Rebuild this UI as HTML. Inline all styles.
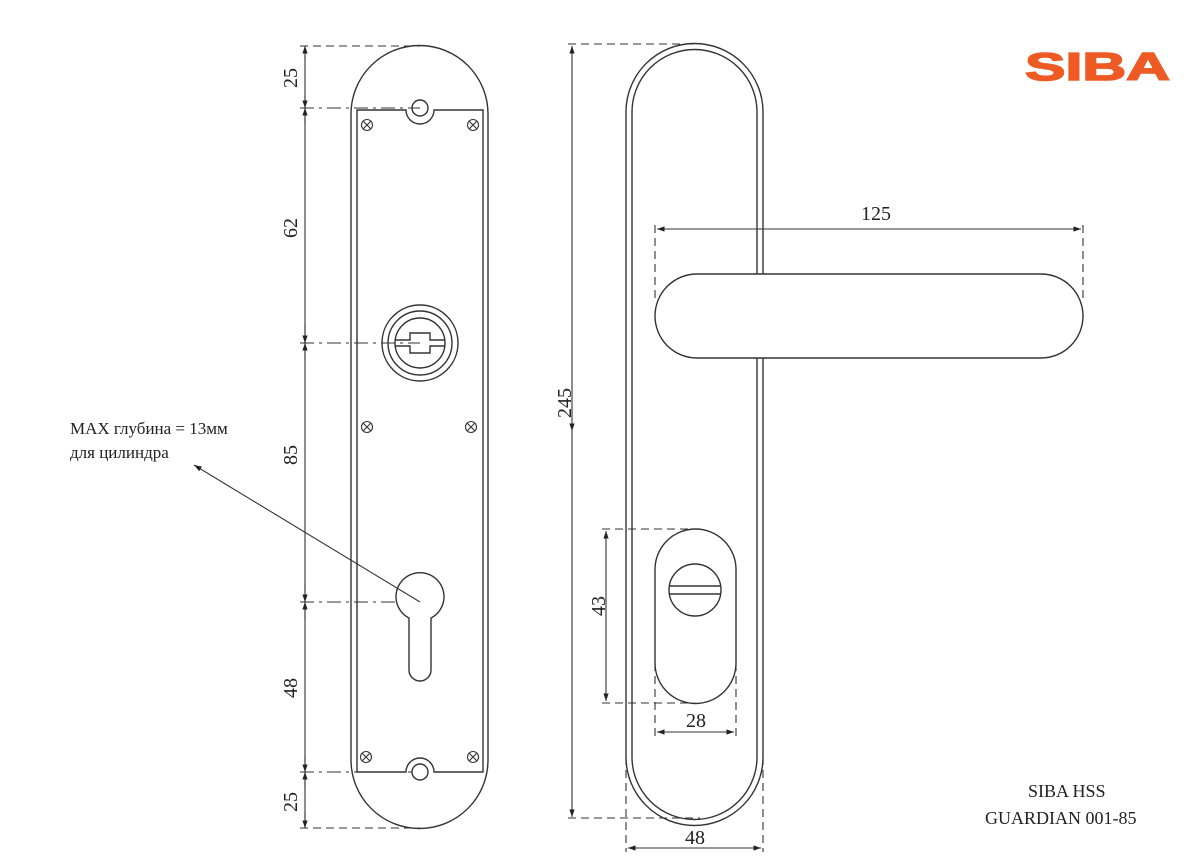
<!DOCTYPE html>
<html><head><meta charset="utf-8"><style>
html,body{margin:0;padding:0;background:#fff}
svg{display:block}
text{font-family:"Liberation Serif","DejaVu Serif",serif;fill:#222}
</style></head><body>
<svg width="1200" height="867" viewBox="0 0 1200 867" xmlns="http://www.w3.org/2000/svg">
<defs>
<marker id="a" viewBox="0 0 10 10" refX="10" refY="5" markerWidth="7" markerHeight="7" orient="auto-start-reverse"><path d="M0,1.5 L10,5 L0,8.5 z" fill="#222"/></marker>
</defs>
<g fill="none" stroke="#333" stroke-width="1.4">
<!-- LEFT PLATE -->
<path d="M351,114 A68.5,68.5 0 0 1 488,114 L488,760 A68.5,68.5 0 0 1 351,760 Z"/>
<path d="M357,110 L406,110 A14,14 0 0 0 434,110 L483,110 L483,772 L434,772 A14,14 0 0 0 406,772 L357,772 Z"/>
<circle cx="420" cy="108" r="8"/>
<circle cx="420" cy="772" r="8"/>
<g stroke-width="1.1">
<circle cx="367" cy="125" r="5.5"/><path d="M363,121 l8,8 M371,121 l-8,8"/>
<circle cx="473" cy="125" r="5.5"/><path d="M469,121 l8,8 M477,121 l-8,8"/>
<circle cx="367" cy="427" r="5.5"/><path d="M363,423 l8,8 M371,423 l-8,8"/>
<circle cx="471" cy="427" r="5.5"/><path d="M467,423 l8,8 M475,423 l-8,8"/>
<circle cx="366" cy="757" r="5.5"/><path d="M362,753 l8,8 M370,753 l-8,8"/>
<circle cx="473" cy="757" r="5.5"/><path d="M469,753 l8,8 M477,753 l-8,8"/>
</g>
<circle cx="420" cy="343" r="38"/>
<circle cx="420" cy="343" r="32"/>
<circle cx="420" cy="343" r="25"/>
<path d="M395,340 L410,340 L410,333 L430,333 L430,340 L445,340 M395,346 L410,346 L410,353 L430,353 L430,346 L445,346"/>
<path d="M409,618 A24,24 0 1 1 431,618 L431,670 A11,11 0 0 1 409,670 Z"/>
<!-- left dims -->
<line x1="305" y1="46" x2="305" y2="828" stroke-width="1.1"/>
<g stroke-dasharray="8,5" stroke-width="1.1">
<line x1="300" y1="46" x2="420" y2="46"/>
<line x1="300" y1="828" x2="420" y2="828"/>
</g>
<g stroke-dasharray="14,5,3,5" stroke-width="1.1">
<line x1="300" y1="108" x2="420" y2="108"/>
<line x1="300" y1="343" x2="420" y2="343"/>
<line x1="300" y1="602" x2="396" y2="602"/>
<line x1="300" y1="772" x2="412" y2="772"/>
</g>
<g stroke-width="1.1">
<line x1="305" y1="60" x2="305" y2="46" marker-end="url(#a)"/>
<line x1="305" y1="95" x2="305" y2="108" marker-end="url(#a)"/>
<line x1="305" y1="125" x2="305" y2="108" marker-end="url(#a)"/>
<line x1="305" y1="325" x2="305" y2="343" marker-end="url(#a)"/>
<line x1="305" y1="360" x2="305" y2="343" marker-end="url(#a)"/>
<line x1="305" y1="585" x2="305" y2="602" marker-end="url(#a)"/>
<line x1="305" y1="620" x2="305" y2="602" marker-end="url(#a)"/>
<line x1="305" y1="755" x2="305" y2="772" marker-end="url(#a)"/>
<line x1="305" y1="790" x2="305" y2="772" marker-end="url(#a)"/>
<line x1="305" y1="812" x2="305" y2="828" marker-end="url(#a)"/>
<line x1="420" y1="602" x2="194" y2="465" marker-end="url(#a)"/>
</g>
<!-- RIGHT PLATE -->
<path d="M626,112 A68.5,68.5 0 0 1 763,112 L763,757 A68.5,68.5 0 0 1 626,757 Z"/>
<path d="M632,112 A62.5,62.5 0 0 1 757,112 L757,757 A62.5,62.5 0 0 1 632,757 Z"/>
<path d="M697,274 L1041,274 A42,42 0 0 1 1041,358 L697,358 A42,42 0 0 1 697,274 Z" fill="#fff"/>
<path d="M695,529 A40.5,40.5 0 0 1 736,570 L736,663 A40.5,40.5 0 0 1 655,663 L655,570 A40.5,40.5 0 0 1 695,529 Z"/>
<circle cx="695" cy="590" r="26"/>
<path d="M669,586 L721,586 M669,594 L721,594"/>
<!-- right dims -->
<g stroke-dasharray="8,5" stroke-width="1.1">
<line x1="568" y1="44" x2="700" y2="44"/>
<line x1="568" y1="818" x2="700" y2="818"/>
<line x1="655" y1="225" x2="655" y2="300"/>
<line x1="1083" y1="225" x2="1083" y2="300"/>
<line x1="602" y1="529" x2="695" y2="529"/>
<line x1="602" y1="703" x2="695" y2="703"/>
<line x1="655" y1="663" x2="655" y2="738"/>
<line x1="736" y1="663" x2="736" y2="738"/>
<line x1="626" y1="757" x2="626" y2="852"/>
<line x1="763" y1="757" x2="763" y2="852"/>
</g>
<g stroke-width="1.1">
<line x1="572" y1="431" x2="572" y2="46" marker-end="url(#a)" marker-start="url(#a)"/>
<line x1="572" y1="431" x2="572" y2="817" marker-end="url(#a)"/>
<line x1="657" y1="229" x2="1081" y2="229" marker-end="url(#a)" marker-start="url(#a)"/>
<line x1="606" y1="531" x2="606" y2="701" marker-end="url(#a)" marker-start="url(#a)"/>
<line x1="657" y1="732" x2="734" y2="732" marker-end="url(#a)" marker-start="url(#a)"/>
<line x1="628" y1="848" x2="761" y2="848" marker-end="url(#a)" marker-start="url(#a)"/>
</g>
</g>
<g font-size="20">
<text transform="translate(297,78) rotate(-90)" text-anchor="middle">25</text>
<text transform="translate(297,228) rotate(-90)" text-anchor="middle">62</text>
<text transform="translate(297,455) rotate(-90)" text-anchor="middle">85</text>
<text transform="translate(297,688) rotate(-90)" text-anchor="middle">48</text>
<text transform="translate(297,802) rotate(-90)" text-anchor="middle">25</text>
<text transform="translate(571,403) rotate(-90)" text-anchor="middle">245</text>
<text transform="translate(605,606) rotate(-90)" text-anchor="middle">43</text>
<text x="876" y="220" text-anchor="middle">125</text>
<text x="696" y="727" text-anchor="middle">28</text>
<text x="695" y="844" text-anchor="middle">48</text>
</g>
<text x="70" y="434" font-size="17">MAX глубина = 13мм</text>
<text x="70" y="458" font-size="17">для цилиндра</text>
<text x="1028" y="797" font-size="18">SIBA HSS</text>
<text x="985" y="824" font-size="18">GUARDIAN 001-85</text>
<text x="1025" y="80" font-size="39" font-weight="bold" textLength="145" lengthAdjust="spacingAndGlyphs" style="font-family:'Liberation Sans',sans-serif;fill:#ee5a24;stroke:#ee5a24;stroke-width:1.5">SIBA</text>
</svg>
</body></html>
